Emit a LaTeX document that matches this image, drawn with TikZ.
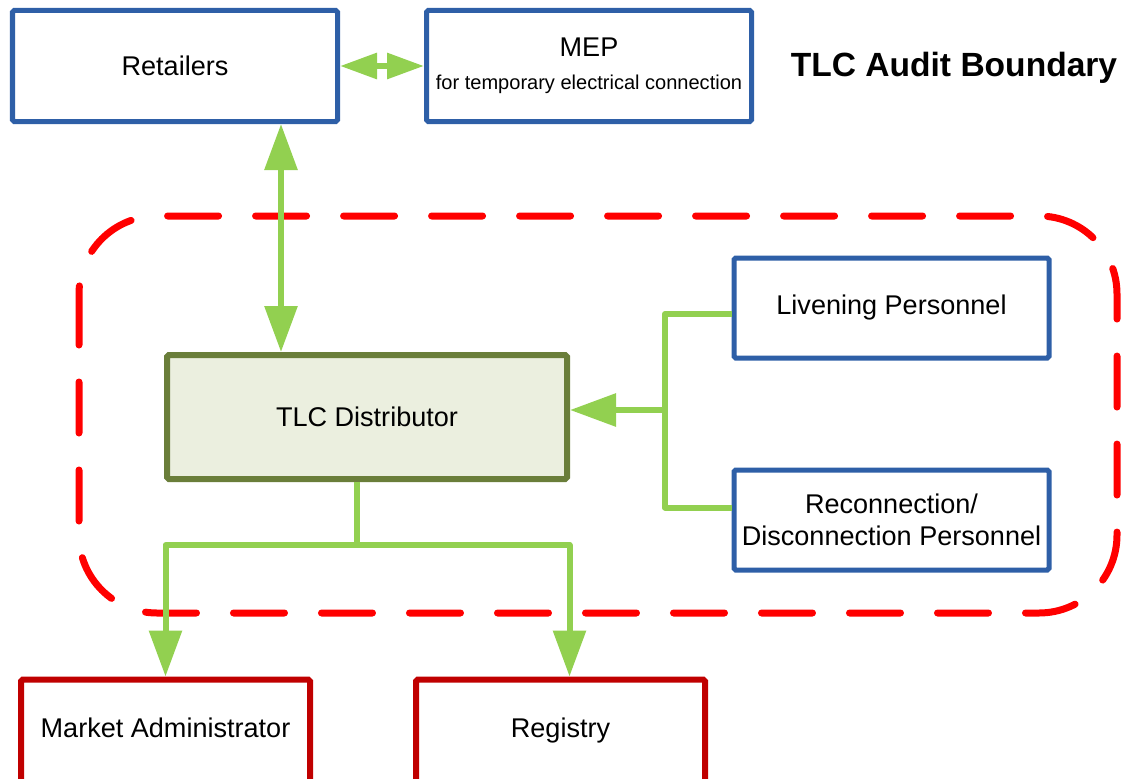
\documentclass[tikz,border=0pt]{standalone}
\usepackage{fontspec}
\setmainfont{Liberation Sans}
\usepackage{xcolor}
\usetikzlibrary{arrows.meta,positioning}

\definecolor{partyblue}{RGB}{46,95,167}
\definecolor{tlcolive}{RGB}{106,126,58}
\definecolor{tlcfill}{RGB}{235,239,223}
\definecolor{regred}{RGB}{192,0,0}
\definecolor{linkgreen}{RGB}{146,208,80}
\definecolor{auditred}{RGB}{255,0,0}

\tikzset{
  linktip/.tip={Triangle[width=0.64cm,length=0.92cm]},
  smalltip/.tip={Triangle[width=0.5cm,length=0.74cm]},
  party/.style={rectangle, draw=partyblue, line width=0.1cm, rounded corners=1pt, fill=white, align=center,
    minimum width=6.5cm, minimum height=2.22cm, font=\fontsize{15.4}{18.5}\selectfont},
  crew/.style={party, minimum width=6.3cm, minimum height=2.0cm},
  tlcbox/.style={party, draw=tlcolive, fill=tlcfill, line width=0.12cm, minimum width=8.0cm, minimum height=2.48cm},
  regbox/.style={party, draw=regred, line width=0.12cm, minimum width=5.78cm, minimum height=2.3cm,
    text height=0.4cm, text depth=0.4cm},
  link/.style={draw=linkgreen, line width=0.12cm, line join=round},
  boundary/.style={draw=auditred, line width=0.14cm, line cap=round, dash pattern=on 1.02cm off 0.74cm, rounded corners=1.56cm}
}

\begin{document}
\begin{tikzpicture}
  \useasboundingbox (0,0) rectangle (22.52,-15.56);
  \clip (0,0) rectangle (22.52,-15.56);

  % audit boundary
  \draw[boundary] (1.58,-4.32) rectangle (22.34,-12.26);

  \node[party] (retail) at (3.5,-1.32) {Retailers};
  \node[party, right=1.68cm of retail] (mep) {MEP\\{\fontsize{11.4}{13}\selectfont for temporary electrical connection}};
  \node[font=\fontsize{19.1}{22}\selectfont\bfseries] (title) at (19.08,-1.36) {TLC Audit Boundary};

  \node[crew] (liven) at (17.83,-6.16) {Livening Personnel};
  \node[crew, below=2.14cm of liven] (recon) {Reconnection/\\Disconnection Personnel};
  \node[tlcbox] (tlc) at (7.34,-8.34) {TLC Distributor};

  % bottom of these two runs off the page
  \node[regbox] (madmin) at (3.31,-14.74) {Market Administrator};
  \node[regbox, right=2.0cm of madmin] (registry) {Registry};

  % connectors
  \draw[link, smalltip-smalltip] (retail) -- (mep);
  \draw[link, linktip-linktip] ([xshift=2.12cm]retail.south) -- ([xshift=2.12cm]retail.south |- tlc.north);

  \coordinate (fork) at (13.3,-8.2);
  \draw[link] ([yshift=-0.12cm]liven.west) -| (fork) |- ([yshift=0.25cm]recon.west);
  \draw[link, -linktip] (fork) -- (fork -| tlc.east);

  \coordinate (split) at (7.14,-10.9);
  \draw[link] (split |- tlc.south) -- (split);
  \draw[link, -linktip] (split) -| (madmin.north);
  \draw[link, -linktip] (split) -| ([xshift=0.18cm]registry.north);
\end{tikzpicture}
\end{document}
